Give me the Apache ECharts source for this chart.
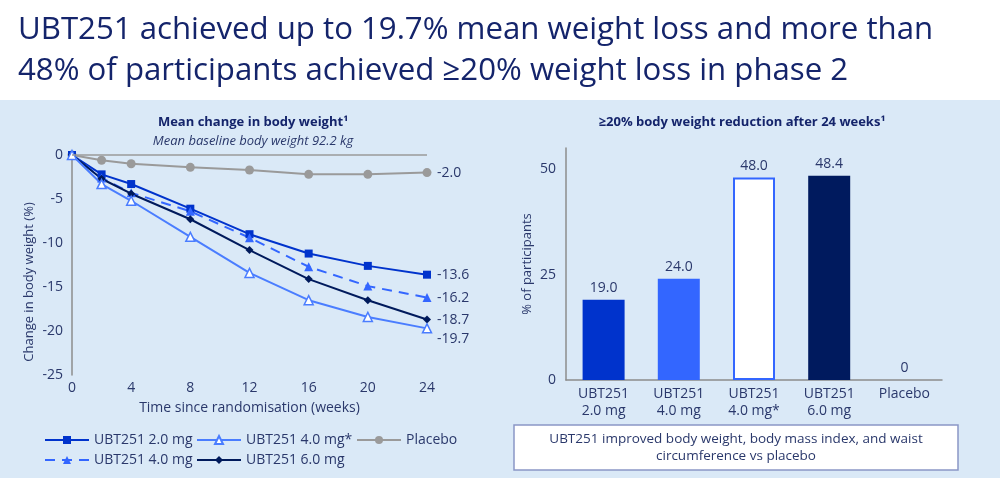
<!DOCTYPE html>
<html><head><meta charset="utf-8">
<script src="https://cdn.jsdelivr.net/npm/echarts@6/dist/echarts.min.js"></script>
<style>html,body{margin:0;padding:0;background:#fff}#c{width:1000px;height:487px}</style>
</head><body><div id="c"></div>
<script>
const weeks = [0, 2, 4, 8, 12, 16, 20, 24];
const seriesNames = ['UBT251 2.0 mg', 'UBT251 4.0 mg', 'UBT251 4.0 mg*', 'UBT251 6.0 mg', 'Placebo'];
const ubt2mg = [0, -2.2, -3.3, -6.1, -9.0, -11.2, -12.6, -13.6];
const ubt4mg = [0, -2.6, -4.3, -6.4, -9.4, -12.7, -14.9, -16.2];
const ubt4mgStar = [0, -3.3, -5.2, -9.3, -13.4, -16.5, -18.4, -19.7];
const ubt6mg = [0, -2.7, -4.4, -7.3, -10.8, -14.1, -16.5, -18.7];
const placebo = [0, -0.6, -1.0, -1.4, -1.7, -2.2, -2.2, -2.0];
const yTicksLeft = [0, -5, -10, -15, -20, -25];

const barCategories = ['UBT251\n2.0 mg', 'UBT251\n4.0 mg', 'UBT251\n4.0 mg*', 'UBT251\n6.0 mg', 'Placebo'];
const barValues = [19.0, 24.0, 48.0, 48.4, 0];

const NAVY = '#14246b';
const TXT = '#2a386b';
const FONT = '"Open Sans", "Noto Sans", sans-serif';
const pts = arr => weeks.map((w, i) => [w, arr[i]]);

const chart = echarts.init(document.getElementById('c'), null, {renderer: 'canvas'});

function lineSeries(name, data, color, symbol, size, opts) {
  return Object.assign({
    type: 'line', name: name, data: pts(data), xAxisIndex: 0, yAxisIndex: 0,
    symbol: symbol, symbolSize: size, showAllSymbol: true,
    lineStyle: {color: color, width: 2},
    itemStyle: {color: color},
    endLabel: {show: true, distance: 10, color: TXT, fontSize: 14, fontFamily: FONT,
      formatter: p => p.value[1].toFixed(1)},
    z: 3
  }, opts || {});
}

const legendPos = [
  {name: seriesNames[0], left: 44, top: 433},
  {name: seriesNames[2], left: 196, top: 433},
  {name: seriesNames[4], left: 356, top: 433},
  {name: seriesNames[1], left: 44, top: 453},
  {name: seriesNames[3], left: 196, top: 453}
];

const option = {
  animation: false,
  backgroundColor: '#ffffff',
  textStyle: {fontFamily: FONT},
  graphic: [
    {type: 'rect', shape: {x: 0, y: 100, width: 1000, height: 378}, style: {fill: '#dae9f7'}, z: -10, silent: true},
    {type: 'rect', shape: {x: 514, y: 425, width: 444, height: 45}, style: {fill: '#ffffff', stroke: '#8a97c6', lineWidth: 1.5}, z: 5},
    {type: 'text', x: 736, y: 448, z: 6, style: {text: 'UBT251 improved body weight, body mass index, and waist\ncircumference vs placebo',
      fill: TXT, font: '13.5px ' + FONT, textAlign: 'center', textVerticalAlign: 'middle', lineHeight: 17}}
  ],
  title: [
    {text: 'UBT251 achieved up to 19.7% mean weight loss and more than\n48% of participants achieved ≥20% weight loss in phase 2',
      left: 13, top: 5, textStyle: {color: NAVY, fontSize: 31.2, fontWeight: 'normal', lineHeight: 41, fontFamily: FONT}},
    {text: 'Mean change in body weight¹', left: 248, top: 111, textAlign: 'center',
      textStyle: {color: NAVY, fontSize: 13, fontWeight: 'bold', fontFamily: FONT}},
    {text: 'Mean baseline body weight 92.2 kg', left: 248, top: 130, textAlign: 'center',
      textStyle: {color: TXT, fontSize: 13, fontStyle: 'italic', fontWeight: 'normal', fontFamily: FONT}},
    {text: '≥20% body weight reduction after 24 weeks¹', left: 737, top: 111, textAlign: 'center',
      textStyle: {color: NAVY, fontSize: 13, fontWeight: 'bold', fontFamily: FONT}}
  ],
  legend: legendPos.map(l => ({
    data: [l.name], left: l.left, top: l.top, itemWidth: 44, itemHeight: 10, padding: 0,
    textStyle: {color: TXT, fontSize: 14, fontFamily: FONT}, selectedMode: false
  })),
  grid: [
    {left: 72, right: 573, top: 155, bottom: 112},
    {left: 566, right: 58, top: 148, bottom: 107}
  ],
  xAxis: [
    {type: 'value', gridIndex: 0, min: 0, max: 24, interval: 4,
      axisLine: {show: false}, axisTick: {show: false}, splitLine: {show: false},
      axisLabel: {color: TXT, fontSize: 14, margin: 6},
      name: 'Time since randomisation (weeks)', nameLocation: 'middle', nameGap: 26,
      nameTextStyle: {color: TXT, fontSize: 14}},
    {type: 'category', gridIndex: 1, data: barCategories,
      axisLine: {show: true, lineStyle: {color: '#8c8c8c', width: 1.5}}, axisTick: {show: false},
      axisLabel: {color: TXT, fontSize: 14, margin: 6, lineHeight: 17}}
  ],
  yAxis: [
    {type: 'value', gridIndex: 0, min: -25, max: 0, interval: 5,
      axisLine: {show: true, lineStyle: {color: '#8c8c8c', width: 1.5}}, axisTick: {show: false}, splitLine: {show: false},
      axisLabel: {color: TXT, fontSize: 14, margin: 9},
      name: 'Change in body weight (%)', nameLocation: 'middle', nameGap: 36,
      nameTextStyle: {color: TXT, fontSize: 13, padding: [0, 34, 0, 0]}},
    {type: 'value', gridIndex: 1, min: 0, max: 55, interval: 25,
      axisLine: {show: true, lineStyle: {color: '#8c8c8c', width: 1.5}}, axisTick: {show: false}, splitLine: {show: false},
      axisLabel: {color: TXT, fontSize: 14, margin: 10, showMaxLabel: false},
      name: '% of participants', nameLocation: 'middle', nameGap: 32,
      nameTextStyle: {color: TXT, fontSize: 13}}
  ],
  series: [
    lineSeries(seriesNames[4], placebo, '#9a9a9a', 'circle', 9, {
      markLine: {silent: true, symbol: 'none', label: {show: false},
        lineStyle: {color: '#9a9a9a', width: 1.5, type: 'solid'}, data: [{yAxis: 0}]}, z: 2}),
    lineSeries(seriesNames[0], ubt2mg, '#0033cc', 'rect', 8),
    lineSeries(seriesNames[1], ubt4mg, '#3366ff', 'triangle', 9, {lineStyle: {color: '#3366ff', width: 2, type: [10, 7]}}),
    lineSeries(seriesNames[3], ubt6mg, '#001a5c', 'diamond', 8),
    lineSeries(seriesNames[2], ubt4mgStar, '#4a7dff', 'triangle', 9, {
      itemStyle: {color: '#ffffff', borderColor: '#4a7dff', borderWidth: 1.5},
      endLabel: {show: true, distance: 10, offset: [0, 11], color: TXT, fontSize: 14, fontFamily: FONT,
        formatter: p => p.value[1].toFixed(1)}}),
    {type: 'bar', name: 'bars', xAxisIndex: 1, yAxisIndex: 1, barWidth: 42,
      data: barValues.map((v, i) => {
        const fills = ['#0033cc', '#3366ff', '#ffffff', '#001a5e', '#cccccc'];
        const item = {value: v, itemStyle: {color: fills[i]}};
        if (i === 2) item.itemStyle = {color: '#ffffff', borderColor: '#3366ff', borderWidth: 2};
        return item;
      }),
      label: {show: true, position: 'top', distance: 5, color: TXT, fontSize: 14,
        formatter: p => p.value === 0 ? '0' : p.value.toFixed(1)}}
  ]
};
chart.setOption(option);
</script></body></html>
